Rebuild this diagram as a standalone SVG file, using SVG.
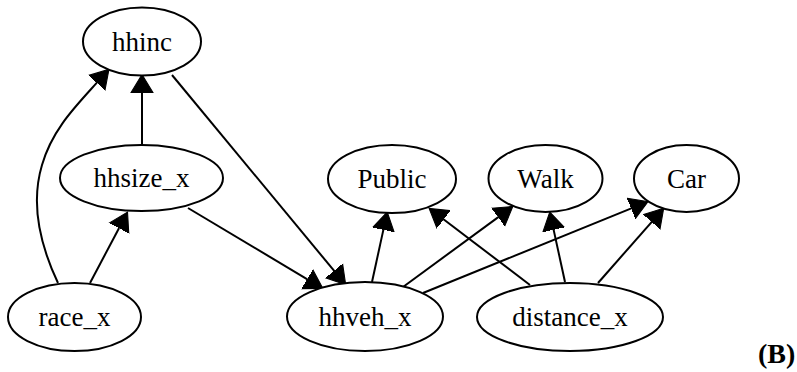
<svg xmlns="http://www.w3.org/2000/svg" width="797" height="372" viewBox="0 0 797 372">
<style>
.n ellipse{fill:#fff;stroke:#000;stroke-width:2}
.n text{font-size:27px;fill:#000;text-anchor:middle}
.e path{fill:none;stroke:#000;stroke-width:2;marker-end:url(#ah)}
.lbl{font-size:28px;font-weight:bold;fill:#000}
</style>
<defs>
<marker id="ah" markerUnits="userSpaceOnUse" markerWidth="20" markerHeight="24" refX="0" refY="0" viewBox="0 -11 18 22" orient="auto">
<path d="M0,-10 L16.5,0 L0,10 z" fill="#000" stroke="#000" stroke-width="1"/>
</marker>
</defs>
<rect width="797" height="372" fill="#fff"/>
<g id="edges" class="e">
<path d="M58,283 C40,245 30,205 42,165 C52,130 75,107 96.9,82.7"/>
<path d="M142,145 L142,92.5"/>
<path d="M90,283 L119.1,228"/>
<path d="M172,75 L334.2,270.9"/>
<path d="M188,208 L307.4,279.3"/>
<path d="M372,282 L383.4,229.6"/>
<path d="M403,287 L498.3,217.1"/>
<path d="M423,293 L631.3,208.4"/>
<path d="M530,285 L443.5,219.3"/>
<path d="M565,282 L553.6,229.6"/>
<path d="M598,283 L651.8,221.8"/>
</g>
<g font-family="'Liberation Serif', 'DejaVu Serif', 'Times New Roman', serif">
<g id="hhinc" class="n"><ellipse cx="142" cy="41.5" rx="59" ry="34"/><text x="142" y="50.5">hhinc</text></g>
<g id="hhsize_x" class="n"><ellipse cx="141.5" cy="178" rx="81.5" ry="33"/><text x="141.5" y="187">hhsize_x</text></g>
<g id="race_x" class="n"><ellipse cx="74.5" cy="317" rx="66.5" ry="34"/><text x="74.5" y="326">race_x</text></g>
<g id="hhveh_x" class="n"><ellipse cx="365" cy="316.5" rx="78" ry="34.5"/><text x="365" y="325.5">hhveh_x</text></g>
<g id="Public" class="n"><ellipse cx="392" cy="179" rx="64" ry="34"/><text x="392" y="188">Public</text></g>
<g id="Walk" class="n"><ellipse cx="545.5" cy="178.5" rx="57" ry="33.5"/><text x="545.5" y="187.5">Walk</text></g>
<g id="Car" class="n"><ellipse cx="686.5" cy="178.5" rx="52.5" ry="33.5"/><text x="686.5" y="187.5">Car</text></g>
<g id="distance_x" class="n"><ellipse cx="570" cy="317" rx="93" ry="34"/><text x="570" y="326">distance_x</text></g>
<text class="lbl" x="758" y="363">(B)</text>
</g>
</svg>
